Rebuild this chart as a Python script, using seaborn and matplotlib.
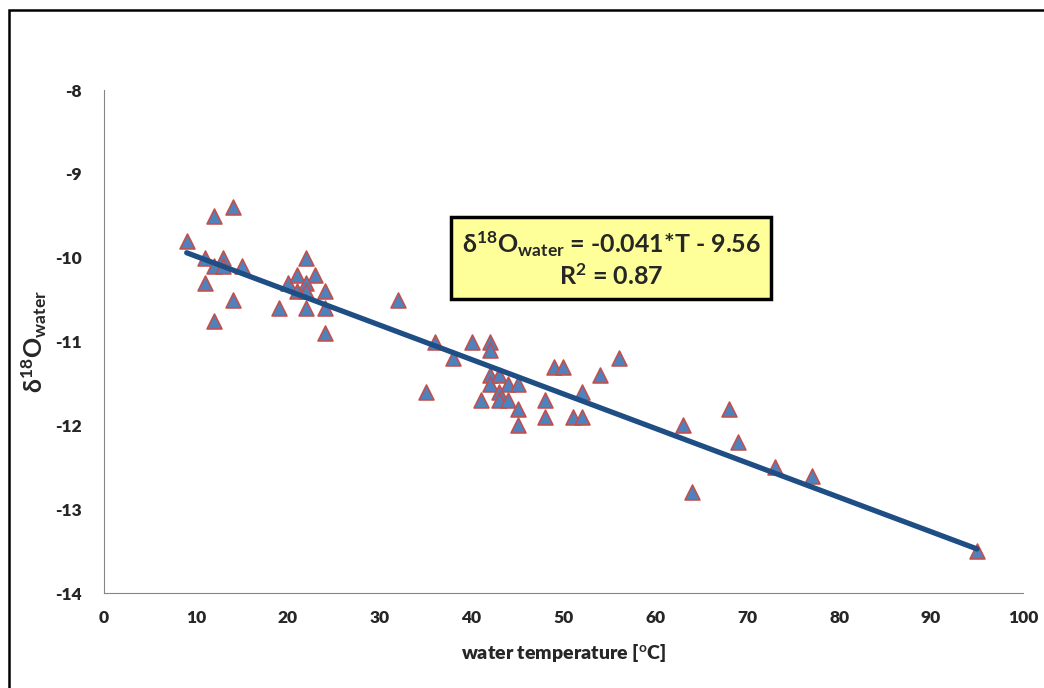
import matplotlib
matplotlib.use("Agg")
import matplotlib.pyplot as plt
import seaborn as sns
import pandas as pd
from matplotlib.patches import Rectangle

# Data
temp_c = [9, 12, 14, 11, 13, 12, 13, 15, 11, 14, 12,
          19, 20, 21, 22, 23, 21, 22, 22, 24, 22, 24, 24,
          32, 35, 36, 38, 40, 42, 42, 41, 42, 42, 43, 43, 43,
          44, 44, 45, 45, 45, 48, 48, 49, 50, 51, 52, 52,
          54, 56, 63, 64, 68, 69, 73, 77, 95]
d18o_water = [-9.8, -9.5, -9.4, -10.0, -10.0, -10.1, -10.1, -10.1, -10.3, -10.5, -10.75,
              -10.6, -10.3, -10.2, -10.0, -10.2, -10.4, -10.3, -10.4, -10.4, -10.6, -10.6, -10.9,
              -10.5, -11.6, -11.0, -11.2, -11.0, -11.0, -11.1, -11.7, -11.4, -11.5, -11.4, -11.6, -11.7,
              -11.5, -11.7, -11.5, -11.8, -12.0, -11.7, -11.9, -11.3, -11.3, -11.9, -11.6, -11.9,
              -11.4, -11.2, -12.0, -12.8, -11.8, -12.2, -12.5, -12.6, -13.5]
x_ticks = list(range(0, 101, 10))
y_ticks = [-14, -13, -12, -11, -10, -9, -8]
fit_text = "$\\delta^{\\mathbf{18}}$O$_{\\mathbf{water}}$ = -0.041*T - 9.56\nR$^{\\mathbf{2}}$ = 0.87"

df = pd.DataFrame({"T": temp_c, "d18O": d18o_water})

sns.set_style("white")
plt.rcParams["font.family"] = ["Lato", "DejaVu Sans"]
plt.rcParams["mathtext.fontset"] = "custom"
plt.rcParams["mathtext.rm"] = "Lato"
plt.rcParams["mathtext.bf"] = "Lato:bold"
plt.rcParams["mathtext.default"] = "regular"

fig = plt.figure(figsize=(10.44, 6.88), dpi=100)
ax = fig.add_axes([0.0996, 0.138, 0.8803, 0.731])

sns.scatterplot(data=df, x="T", y="d18O", marker="^", s=115,
                color="#4F81BD", edgecolor="#C0504D", linewidth=1.2,
                ax=ax, zorder=2)
sns.regplot(data=df, x="T", y="d18O", scatter=False, ci=None,
            line_kws={"color": "#1F4E85", "linewidth": 3.8, "zorder": 3}, ax=ax)

ax.set_xlim(0, 100)
ax.set_ylim(-14, -8)
ax.set_xticks(x_ticks)
ax.set_yticks(y_ticks)
ax.set_xticklabels([str(v) for v in x_ticks], fontweight="heavy", fontsize=12.5)
ax.set_yticklabels([str(v) for v in y_ticks], fontweight="heavy", fontsize=12.5)
ax.tick_params(axis="both", direction="out", length=5, width=0.8, color="#868686")
ax.tick_params(axis="y", pad=11)
ax.tick_params(axis="x", pad=7)

for side in ["top", "right"]:
    ax.spines[side].set_visible(False)
for side in ["left", "bottom"]:
    ax.spines[side].set_color("#868686")
    ax.spines[side].set_linewidth(0.8)

ax.set_xlabel("water temperature [$^{\\mathbf{o}}$C]", fontweight="heavy", fontsize=14, labelpad=12)
ax.set_ylabel("$\\delta^{\\mathbf{18}}$O$_{\\mathbf{water}}$", fontweight="bold", fontsize=18, labelpad=4)

ax.text(0.552, 0.664, fit_text, transform=ax.transAxes, ha="center", va="center",
        fontsize=18, fontweight="bold", linespacing=1.2, zorder=5,
        bbox=dict(boxstyle="square,pad=0.42", facecolor="#FFFF99",
                  edgecolor="black", linewidth=2.5))

# outer chart frame
fig.patches.append(Rectangle((0.009, -0.1), 1.2, 1.085, transform=fig.transFigure,
                             fill=False, edgecolor="black", linewidth=1.8))

fig.savefig("out.png", dpi=100)
